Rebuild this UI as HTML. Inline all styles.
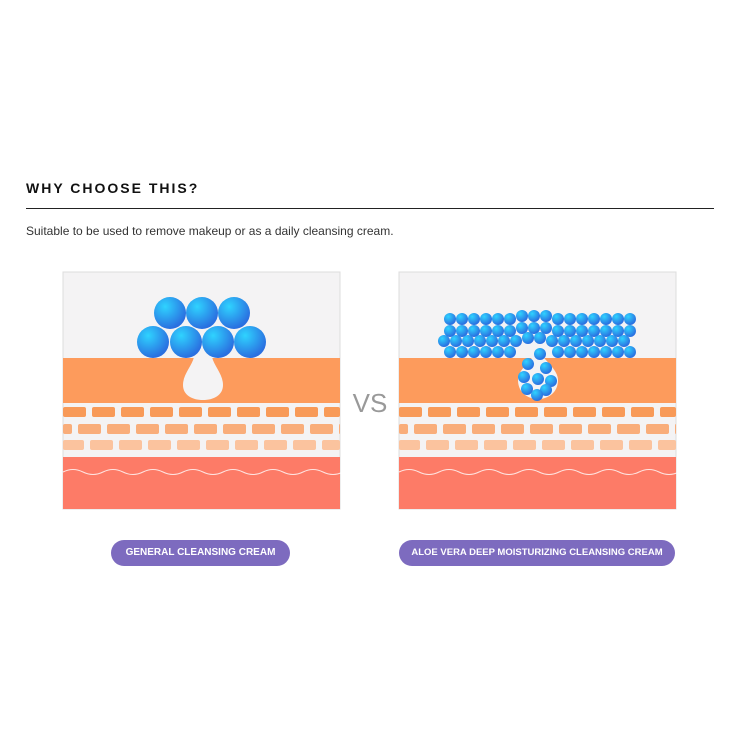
<!DOCTYPE html>
<html><head><style>
body{margin:0;width:751px;height:751px;background:#fff;position:relative;font-family:"Liberation Sans",sans-serif;overflow:hidden}
h2{position:absolute;left:26px;top:180px;margin:0;font-size:14px;letter-spacing:2px;font-weight:bold;color:#111}
.line{position:absolute;left:26px;top:208px;width:688px;height:1px;background:#222}
p{position:absolute;left:26px;top:224px;margin:0;font-size:12px;color:#333}
.btn{position:absolute;top:540px;height:26px;border-radius:13px;background:#7d6bbf;color:#fff;font-size:10px;font-weight:bold;line-height:26px;text-align:center}
</style></head><body>
<h2>WHY CHOOSE THIS?</h2>
<div class="line"></div>
<p>Suitable to be used to remove makeup or as a daily cleansing cream.</p>
<svg id="s" width="751" height="751" style="position:absolute;left:0;top:0">
<defs><radialGradient id="g" cx="0.35" cy="0.3" r="0.7"><stop offset="0" stop-color="#2fd3ff"/><stop offset="1" stop-color="#2a6fe0"/></radialGradient></defs>
<text x="370" y="412" font-size="26" fill="#999" text-anchor="middle" font-family="Liberation Sans">VS</text>
</svg>
<div class="btn" style="left:111px;width:179px">GENERAL CLEANSING CREAM</div>
<div class="btn" style="left:399px;width:276px;font-size:9.5px">ALOE VERA DEEP MOISTURIZING CLEANSING CREAM</div>
<script>
var s=document.getElementById('s'),ns='http://www.w3.org/2000/svg';
function el(t,a){var e=document.createElementNS(ns,t);for(var k in a)e.setAttribute(k,a[k]);s.appendChild(e);return e}
function panel(x0,w,dx){
 el('rect',{x:x0,y:272,width:w,height:237,fill:'#f4f3f4',stroke:'#ddd'});
 el('rect',{x:x0,y:358,width:w,height:45,fill:'#fd9b5c'});
 var rows=[[407,'#f89a58',0],[424,'#f9ad7a',-14],[440,'#fbc39e',-2]];
 rows.forEach(function(r){for(var x=x0+r[2];x<x0+w;x+=29){var a=Math.max(x,x0),b=Math.min(x+23,x0+w);if(b>a)el('rect',{x:a,y:r[0],width:b-a,height:10,rx:2,fill:r[1]})}});
 el('rect',{x:x0,y:457,width:w,height:52,fill:'#fd7b67'});
 var d='M'+x0+' 472';for(var x=x0;x<x0+w;x+=40)d+=' q10 -5 20 0 t20 0';
 el('path',{d:d,stroke:'#fff','stroke-width':1,fill:'none',opacity:.8});
}
panel(63,277);panel(399,277);
el('path',{d:'M194 357 L212 357 C214 366 223 374 223 385 C223 395 214 400 203 400 C192 400 183 395 183 385 C183 374 192 366 194 357Z',fill:'#f4f3f4'});
[[170,313],[202,313],[234,313],[153,342],[186,342],[218,342],[250,342]].forEach(function(c){el('circle',{cx:c[0],cy:c[1],r:16,fill:'url(#g)'})});
el('path',{d:'M538 350 C530 362 518 370 518 380 C518 392 527 399 538 399 C549 399 558 392 558 380 C558 370 546 362 538 350Z',fill:'#f4f3f4'});
var ys=[319,331,341,352];
ys.forEach(function(y,i){var off=(i==2)?-6:0;for(var x=450+off;x<=632;x+=12){var yy=y;if(x>518&&x<552){yy=y-3;if(i==3)continue;}el('circle',{cx:x,cy:yy,r:6,fill:'url(#g)'})}});
[[540,354],[528,364],[546,368],[524,377],[538,379],[551,381],[527,389],[546,390],[537,395]].forEach(function(c){el('circle',{cx:c[0],cy:c[1],r:6,fill:'url(#g)'})});
</script>
</body></html>
